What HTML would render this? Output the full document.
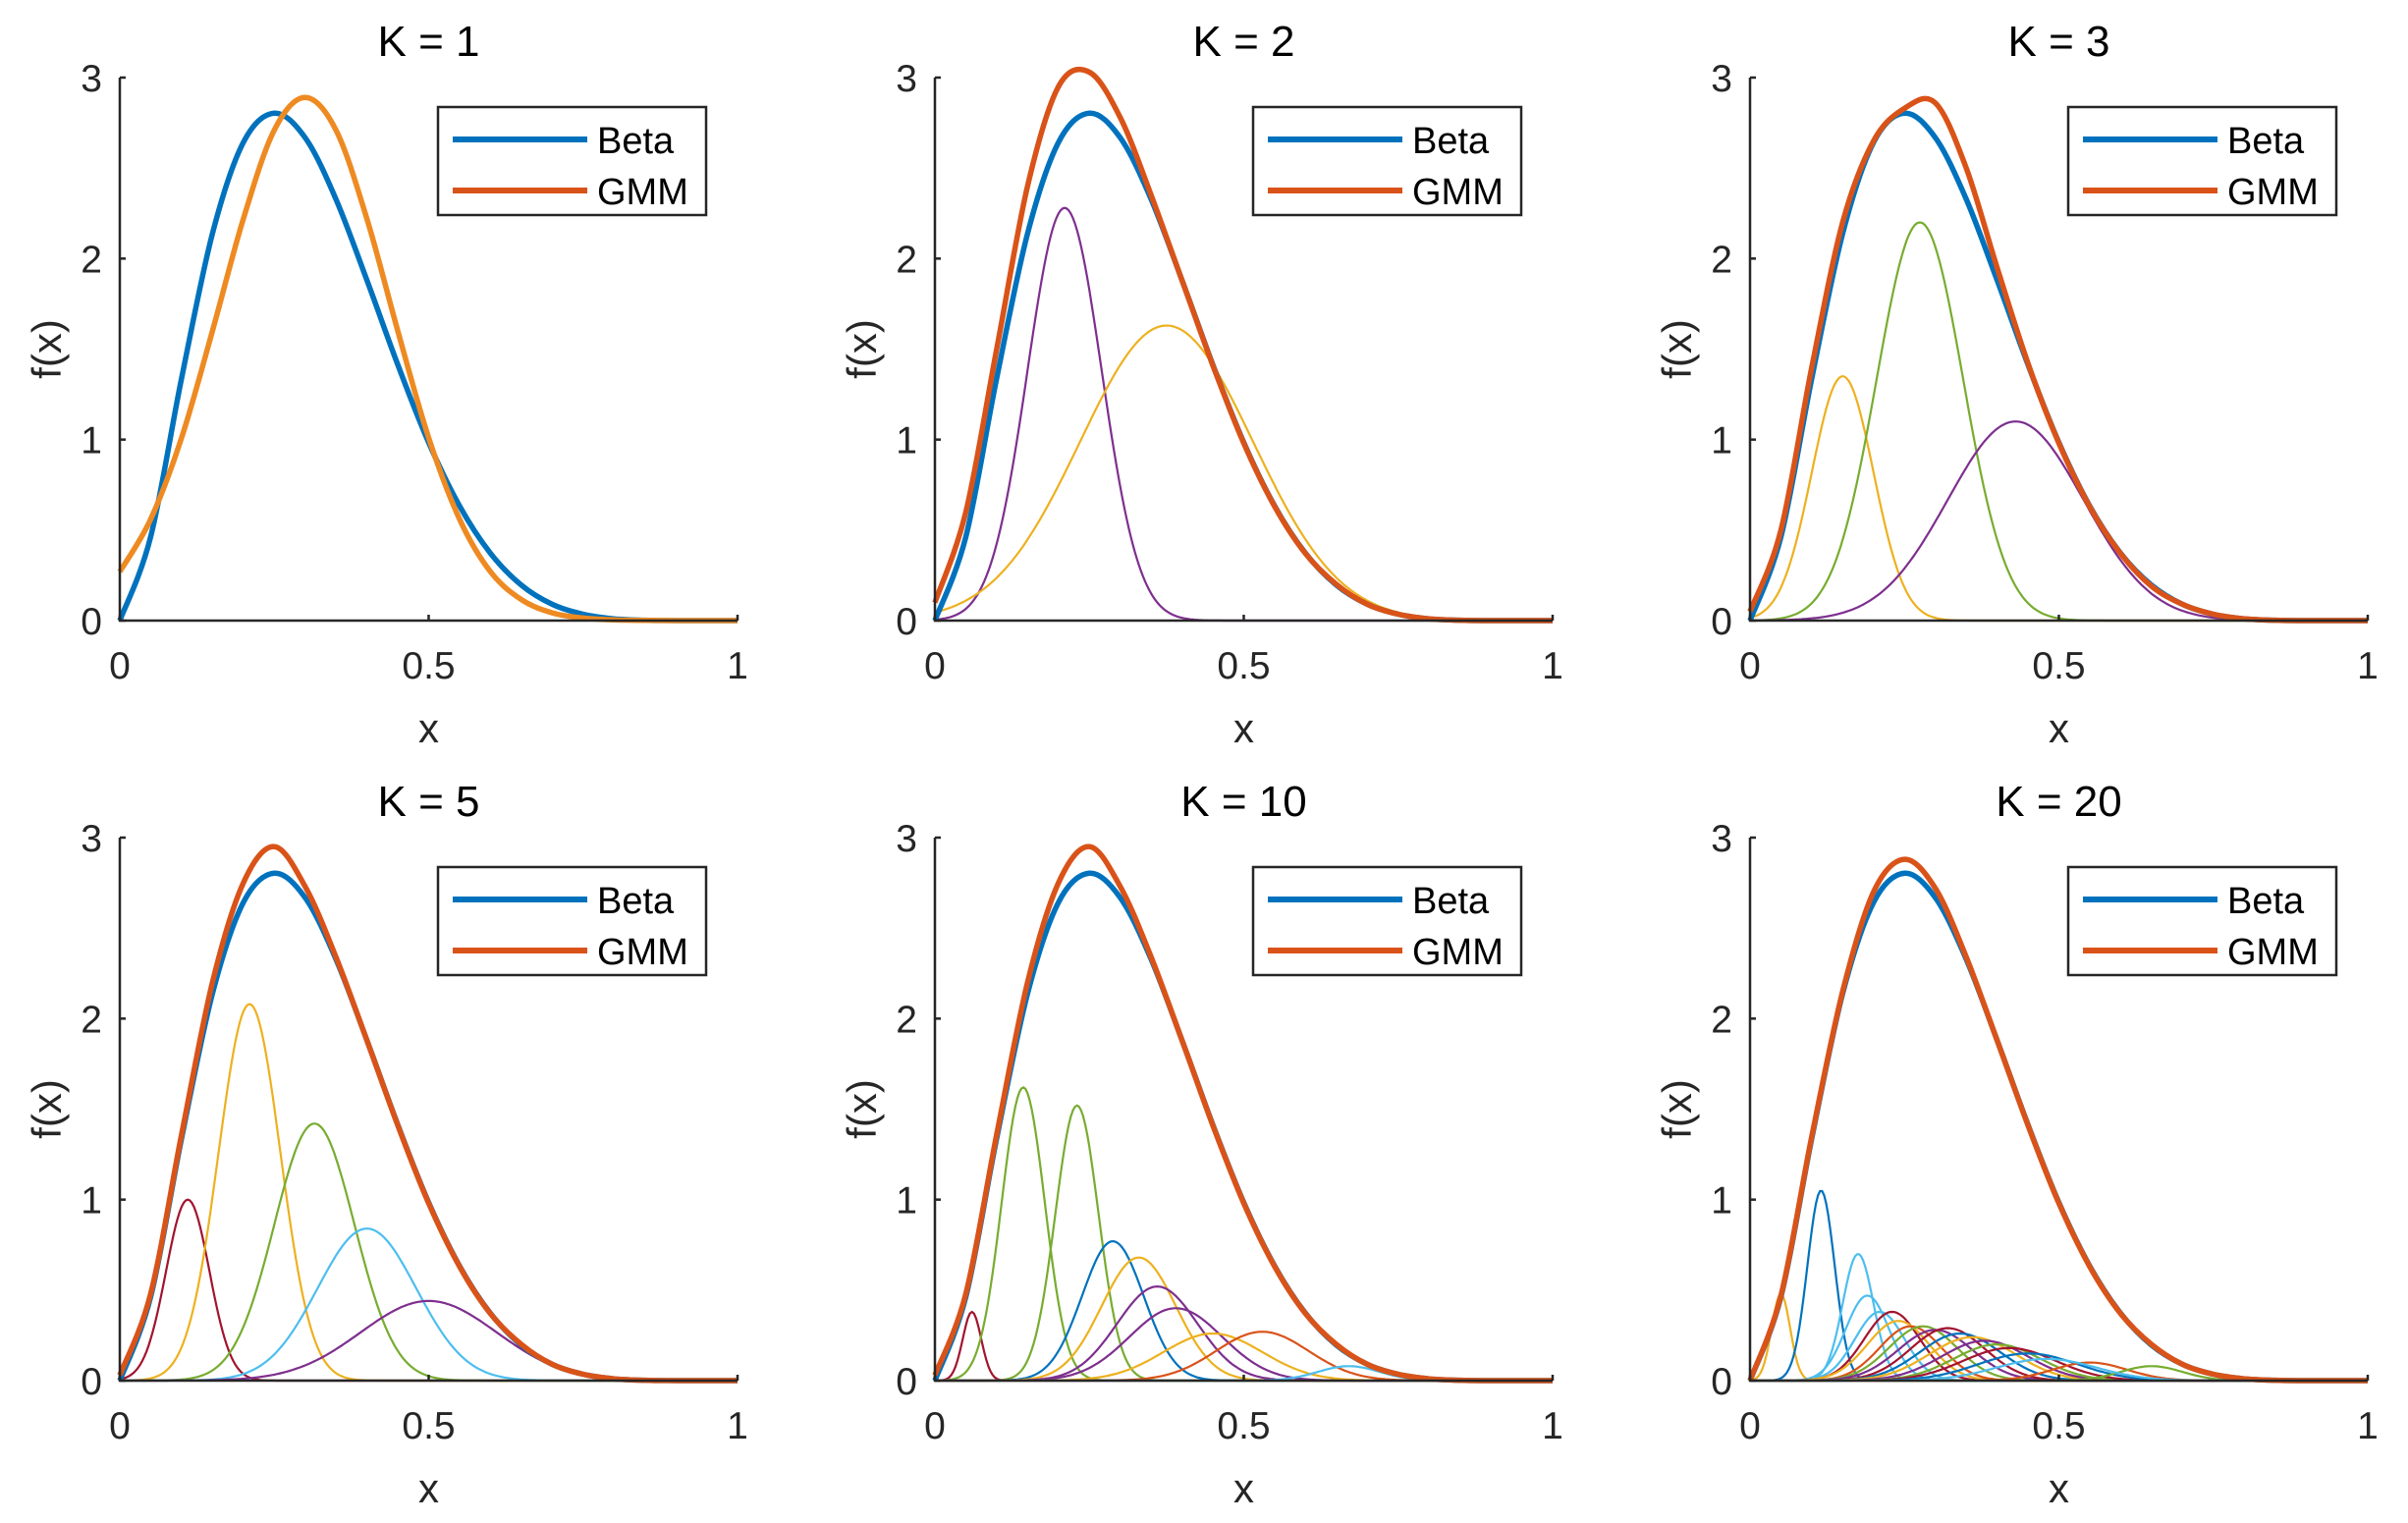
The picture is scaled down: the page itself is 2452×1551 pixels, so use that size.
<!DOCTYPE html>
<html><head><meta charset="utf-8"><style>
body{margin:0;background:#fff;}
svg{display:block;font-family:"Liberation Sans",Arial,sans-serif;}
</style></head><body>
<svg id="fig" width="2452" height="1551" viewBox="0 0 2452 1551"></svg>
<script>
const xGrid=[0,0.05,0.1,0.15,0.2,0.25,0.3,0.35,0.4,0.45,0.5,0.55,0.6,0.65,0.7,0.75,0.8,0.85,0.9,0.95,1];
const betaVals=[0,0.463,1.339,2.138,2.642,2.803,2.668,2.328,1.881,1.413,0.984,0.633,0.372,0.196,0.090,0.035,0.010,0.002,0.0002,0,0];
const gmmK1=[0.27,0.56,1.01,1.60,2.22,2.71,2.89,2.71,2.22,1.60,1.01,0.56,0.27,0.116,0.043,0.014,0.004,0.001,0,0,0];
const gmmK2=[0.1,0.6,1.5,2.4,2.95,3.03,2.78,2.35,1.88,1.41,0.98,0.63,0.37,0.2,0.09,0.035,0.01,0.002,0,0,0];
const gmmK3=[0.05,0.5,1.4,2.2,2.65,2.83,2.86,2.5,1.95,1.42,0.98,0.63,0.37,0.19,0.09,0.035,0.01,0.002,0,0,0];
const gmmK5=[0.03,0.48,1.36,2.2,2.75,2.95,2.73,2.34,1.88,1.41,0.98,0.63,0.37,0.2,0.09,0.035,0.01,0.002,0,0,0];
const gmmK10=[0.03,0.48,1.36,2.2,2.75,2.95,2.73,2.34,1.88,1.41,0.98,0.63,0.37,0.2,0.09,0.035,0.01,0.002,0,0,0];
const gmmK20=[0,0.47,1.35,2.15,2.7,2.88,2.72,2.34,1.88,1.41,0.98,0.63,0.37,0.2,0.09,0.035,0.01,0.002,0,0,0];
const K2means=[0.21,0.375], K2sds=[0.06,0.14], K2peaks=[2.28,1.63], K2cols=['#7E2F8E','#EDB120'];
const K3means=[0.15,0.275,0.43], K3sds=[0.05,0.07,0.11], K3peaks=[1.35,2.2,1.1], K3cols=['#EDB120','#77AC30','#7E2F8E'];
const K5means=[0.11,0.21,0.315,0.40,0.50], K5sds=[0.035,0.05,0.065,0.08,0.11], K5peaks=[1.0,2.08,1.42,0.84,0.44], K5cols=['#A2142F','#EDB120','#77AC30','#4DBEEE','#7E2F8E'];
const K10means=[0.06,0.143,0.23,0.288,0.33,0.36,0.39,0.45,0.53,0.67], K10sds=[0.015,0.035,0.035,0.05,0.06,0.065,0.075,0.08,0.075,0.05], K10peaks=[0.38,1.62,1.52,0.77,0.68,0.52,0.40,0.26,0.27,0.08], K10cols=['#A2142F','#77AC30','#77AC30','#0072BD','#EDB120','#7E2F8E','#7E2F8E','#EDB120','#D95319','#4DBEEE'];
const K20means=[0.05,0.115,0.175,0.19,0.21,0.23,0.24,0.26,0.28,0.30,0.32,0.34,0.36,0.38,0.40,0.42,0.45,0.55,0.65,0.48], K20sds=[0.015,0.022,0.025,0.035,0.04,0.045,0.05,0.05,0.055,0.06,0.06,0.065,0.07,0.07,0.07,0.075,0.08,0.06,0.05,0.08], K20peaks=[0.48,1.05,0.7,0.47,0.38,0.38,0.33,0.3,0.3,0.28,0.29,0.26,0.24,0.22,0.2,0.18,0.15,0.1,0.08,0.12], K20cols=['#EDB120','#0072BD','#4DBEEE','#4DBEEE','#4DBEEE','#A2142F','#EDB120','#D95319','#77AC30','#7E2F8E','#A2142F','#0072BD','#EDB120','#7E2F8E','#77AC30','#A2142F','#0072BD','#D95319','#77AC30','#4DBEEE'];
const titles=['K = 1','K = 2','K = 3','K = 5','K = 10','K = 20'];
const xTicks=[0,0.5,1], xTickLabels=['0','0.5','1'];
const yTicks=[0,1,2,3], yTickLabels=['0','1','2','3'];

const panels=[
 {t:0,g:gmmK1,gc:'#EE8A22',m:[],s:[],p:[],c:[]},
 {t:1,g:gmmK2,gc:'#D95319',m:K2means,s:K2sds,p:K2peaks,c:K2cols},
 {t:2,g:gmmK3,gc:'#D95319',m:K3means,s:K3sds,p:K3peaks,c:K3cols},
 {t:3,g:gmmK5,gc:'#D95319',m:K5means,s:K5sds,p:K5peaks,c:K5cols},
 {t:4,g:gmmK10,gc:'#D95319',m:K10means,s:K10sds,p:K10peaks,c:K10cols},
 {t:5,g:gmmK20,gc:'#D95319',m:K20means,s:K20sds,p:K20peaks,c:K20cols}];
const NS='http://www.w3.org/2000/svg';
const fig=document.getElementById('fig');
function mk(tag,attrs,parent){const e=document.createElementNS(NS,tag);for(const k in attrs)e.setAttribute(k,attrs[k]);parent.appendChild(e);return e;}
const colX=[122,952,1782], rowY=[79,853], W=629, H=553;
function smooth(pts){let d='M'+pts[0][0].toFixed(1)+','+pts[0][1].toFixed(1);
 for(let i=0;i<pts.length-1;i++){const p0=pts[Math.max(0,i-1)],p1=pts[i],p2=pts[i+1],p3=pts[Math.min(pts.length-1,i+2)];
 const c1=[p1[0]+(p2[0]-p0[0])/6,p1[1]+(p2[1]-p0[1])/6],c2=[p2[0]-(p3[0]-p1[0])/6,p2[1]-(p3[1]-p1[1])/6];
 d+='C'+c1[0].toFixed(1)+','+c1[1].toFixed(1)+' '+c2[0].toFixed(1)+','+c2[1].toFixed(1)+' '+p2[0].toFixed(1)+','+p2[1].toFixed(1);}
 return d;}
panels.forEach((P,i)=>{
 const ox=colX[i%3], oy=rowY[Math.floor(i/3)];
 const sx=v=>ox+v*W, sy=v=>oy+H-v/3*H;
 const g=mk('g',{},fig);
 
 
 const tt=mk('text',{x:ox+W/2,y:oy-22,'text-anchor':'middle','font-size':44,fill:'#000'},g);tt.textContent=titles[P.t];
 
 P.m.forEach((mu,j)=>{const pts=[];for(let k=0;k<=300;k++){const x=k/300;pts.push([sx(x),sy(P.p[j]*Math.exp(-Math.pow((x-mu)/P.s[j],2)/2))]);}
  const pa=mk('path',{d:'M'+pts.map(q=>q[0].toFixed(1)+','+q[1].toFixed(1)).join('L'),fill:'none',stroke:P.c[j],'stroke-width':2.2},g);
  });
 const bp=mk('path',{d:smooth(xGrid.map((x,k)=>[sx(x),sy(betaVals[k])])),fill:'none',stroke:'#0072BD','stroke-width':5.5},g);
 
 const gp=mk('path',{d:smooth(xGrid.map((x,k)=>[sx(x),sy(P.g[k])])),fill:'none',stroke:P.gc,'stroke-width':5.5},g);
 
 const ax=mk('path',{d:`M${ox},${oy}V${oy+H}H${ox+W}`,fill:'none',stroke:'#262626','stroke-width':2.5},g);
 
 xTicks.forEach((v,k)=>{mk('line',{x1:sx(v),x2:sx(v),y1:oy+H,y2:oy+H-6,stroke:'#262626','stroke-width':2.5},g);
  const t=mk('text',{x:sx(v),y:oy+H+59,'text-anchor':'middle','font-size':39,fill:'#262626'},g);t.textContent=xTickLabels[k];
  });
 yTicks.forEach((v,k)=>{mk('line',{x1:ox,x2:ox+6,y1:sy(v),y2:sy(v),stroke:'#262626','stroke-width':2.5},g);
  const t=mk('text',{x:ox-18,y:sy(v)+14,'text-anchor':'end','font-size':39,fill:'#262626'},g);t.textContent=yTickLabels[k];
  });
 const xl=mk('text',{x:ox+W/2,y:oy+H+124,'text-anchor':'middle','font-size':42,fill:'#262626'},g);xl.textContent='x';
 
 const yl=mk('text',{x:0,y:0,'text-anchor':'middle','font-size':42,fill:'#262626',transform:`translate(${ox-60},${oy+H/2}) rotate(-90)`},g);yl.textContent='f(x)';
 
 const lg=mk('g',{},g);
 
 mk('rect',{x:ox+324,y:oy+30,width:273,height:110,fill:'#fff',stroke:'#262626','stroke-width':2.5},lg);
 [['Beta','#0072BD',63],['GMM','#D95319',115]].forEach(e=>{
  mk('line',{x1:ox+339,x2:ox+476,y1:oy+e[2],y2:oy+e[2],stroke:e[1],'stroke-width':6},lg);
  const t=mk('text',{x:ox+486,y:oy+e[2]+14,'font-size':38,fill:'#000'},lg);t.textContent=e[0];
  });
});
</script>
</body></html>
